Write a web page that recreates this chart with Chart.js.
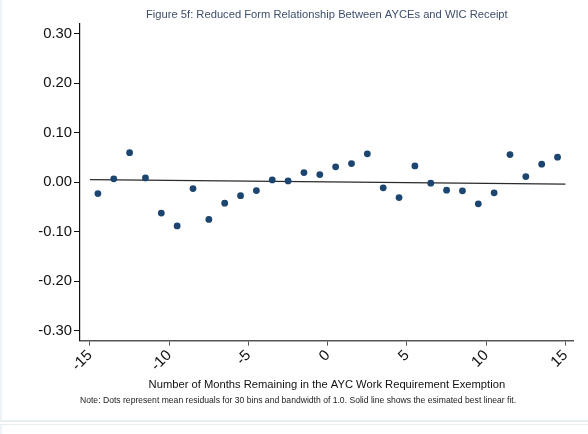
<!DOCTYPE html>
<html><head><meta charset="utf-8">
<script src="https://cdn.jsdelivr.net/npm/chart.js@4.4.1/dist/chart.umd.min.js"></script>
<style>
html,body{margin:0;padding:0;background:#fff;width:588px;height:434px;overflow:hidden;}
#wrap{position:absolute;left:0;top:0;width:588px;height:420px;}
#lstrip{position:absolute;left:0;top:0;width:2px;height:421px;background:#edf3f6;}
#bline{position:absolute;left:0;top:420px;width:588px;height:2px;background:#e6eef2;}
#panel2{position:absolute;left:0;top:424px;width:588px;height:10px;border-top:1px solid #e6eef2;border-left:2px solid #edf3f6;box-sizing:border-box;}
</style></head><body>
<div id="wrap"><canvas id="c" width="588" height="420"></canvas></div>
<div id="lstrip"></div><div id="bline"></div><div id="panel2"></div>
<script>
// ---- data ----
const binCenters = [-14.5,-13.5,-12.5,-11.5,-10.5,-9.5,-8.5,-7.5,-6.5,-5.5,-4.5,-3.5,-2.5,-1.5,-0.5,
                    0.5,1.5,2.5,3.5,4.5,5.5,6.5,7.5,8.5,9.5,10.5,11.5,12.5,13.5,14.5];
const meanResiduals = [-0.0226,0.0071,0.0600,0.0090,-0.0620,-0.0880,-0.0125,-0.0750,-0.0420,-0.0270,-0.0166,0.0050,0.0030,0.0198,0.0158,
                       0.0313,0.0380,0.0576,-0.0110,-0.0307,0.0333,-0.0017,-0.0158,-0.0172,-0.0434,-0.0212,0.0562,0.0117,0.0368,0.0509];
const fitX = [-15, 15];
const fitY = [0.0057, -0.0036];
const xTickValues = [-15,-10,-5,0,5,10,15];
const yTickValues = [-0.30,-0.20,-0.10,0.00,0.10,0.20,0.30];
const titleText = 'Figure 5f: Reduced Form Relationship Between AYCEs and WIC Receipt';
const xTitleText = 'Number of Months Remaining in the AYC Work Requirement Exemption';
const noteText = 'Note: Dots represent mean residuals for 30 bins and bandwidth of 1.0. Solid line shows the esimated best linear fit.';

const FONT = "'Liberation Sans', Arial, sans-serif";

const scatterPts = binCenters.map((x, i) => ({x: x, y: meanResiduals[i]}));
const fitPts = fitX.map((x, i) => ({x: x, y: fitY[i]}));

new Chart(document.getElementById('c'), {
  type: 'scatter',
  data: {
    datasets: [
      {
        type: 'line', data: fitPts, borderColor: '#2a2a2a', borderWidth: 1.2,
        pointRadius: 0, fill: false, order: 2, tension: 0
      },
      {
        data: scatterPts, backgroundColor: '#1c4670', borderColor: '#1c4670',
        pointRadius: 3.4, pointBorderWidth: 0, order: 1
      }
    ]
  },
  options: {
    responsive: false, animation: false, devicePixelRatio: 1,
    layout: { padding: { left: 0, right: 14.3, top: 0, bottom: 0 } },
    plugins: {
      legend: { display: false }, tooltip: { enabled: false },
      title: {
        display: true, text: titleText, fullSize: false, align: 'center',
        color: '#3e4f6d', font: { family: FONT, size: 11.2, weight: 'normal', lineHeight: 1.2 },
        padding: { top: 8.3, bottom: 2.3 }
      },
      subtitle: {
        display: true, text: noteText, position: 'bottom', fullSize: false, align: 'start',
        color: '#222', font: { family: FONT, size: 8.6, weight: 'normal', lineHeight: 1.2 },
        padding: { top: 2, bottom: 13.8 }
      }
    },
    scales: {
      x: {
        type: 'linear', min: -15.63, max: 15.52,
        afterBuildTicks: s => { s.ticks = xTickValues.map(v => ({value: v})); },
        afterFit: s => { s.height = 53.2; },
        grid: { drawOnChartArea: false, drawTicks: true, tickLength: 5, color: '#555', lineWidth: 1 },
        border: { display: true, color: '#555', width: 1.5 },
        ticks: {
          color: '#111', font: { family: FONT, size: 15 }, minRotation: 45, maxRotation: 45,
          padding: 1, autoSkip: false, callback: v => String(v)
        },
        title: {
          display: true, text: xTitleText, color: '#111',
          font: { family: FONT, size: 11.2, lineHeight: 1.2 }, padding: { top: 0, bottom: 2.3 }
        }
      },
      y: {
        type: 'linear', min: -0.32, max: 0.32,
        afterBuildTicks: s => { s.ticks = yTickValues.map(v => ({value: v})); },
        afterFit: s => { s.width = 80; },
        grid: { drawOnChartArea: false, drawTicks: true, tickLength: 6, color: '#111', lineWidth: 1 },
        border: { display: true, color: '#111', width: 1.2 },
        ticks: {
          color: '#111', font: { family: FONT, size: 14.8 }, padding: 2, autoSkip: false,
          callback: v => Number(v).toFixed(2)
        }
      }
    }
  }
});
</script>
</body></html>
